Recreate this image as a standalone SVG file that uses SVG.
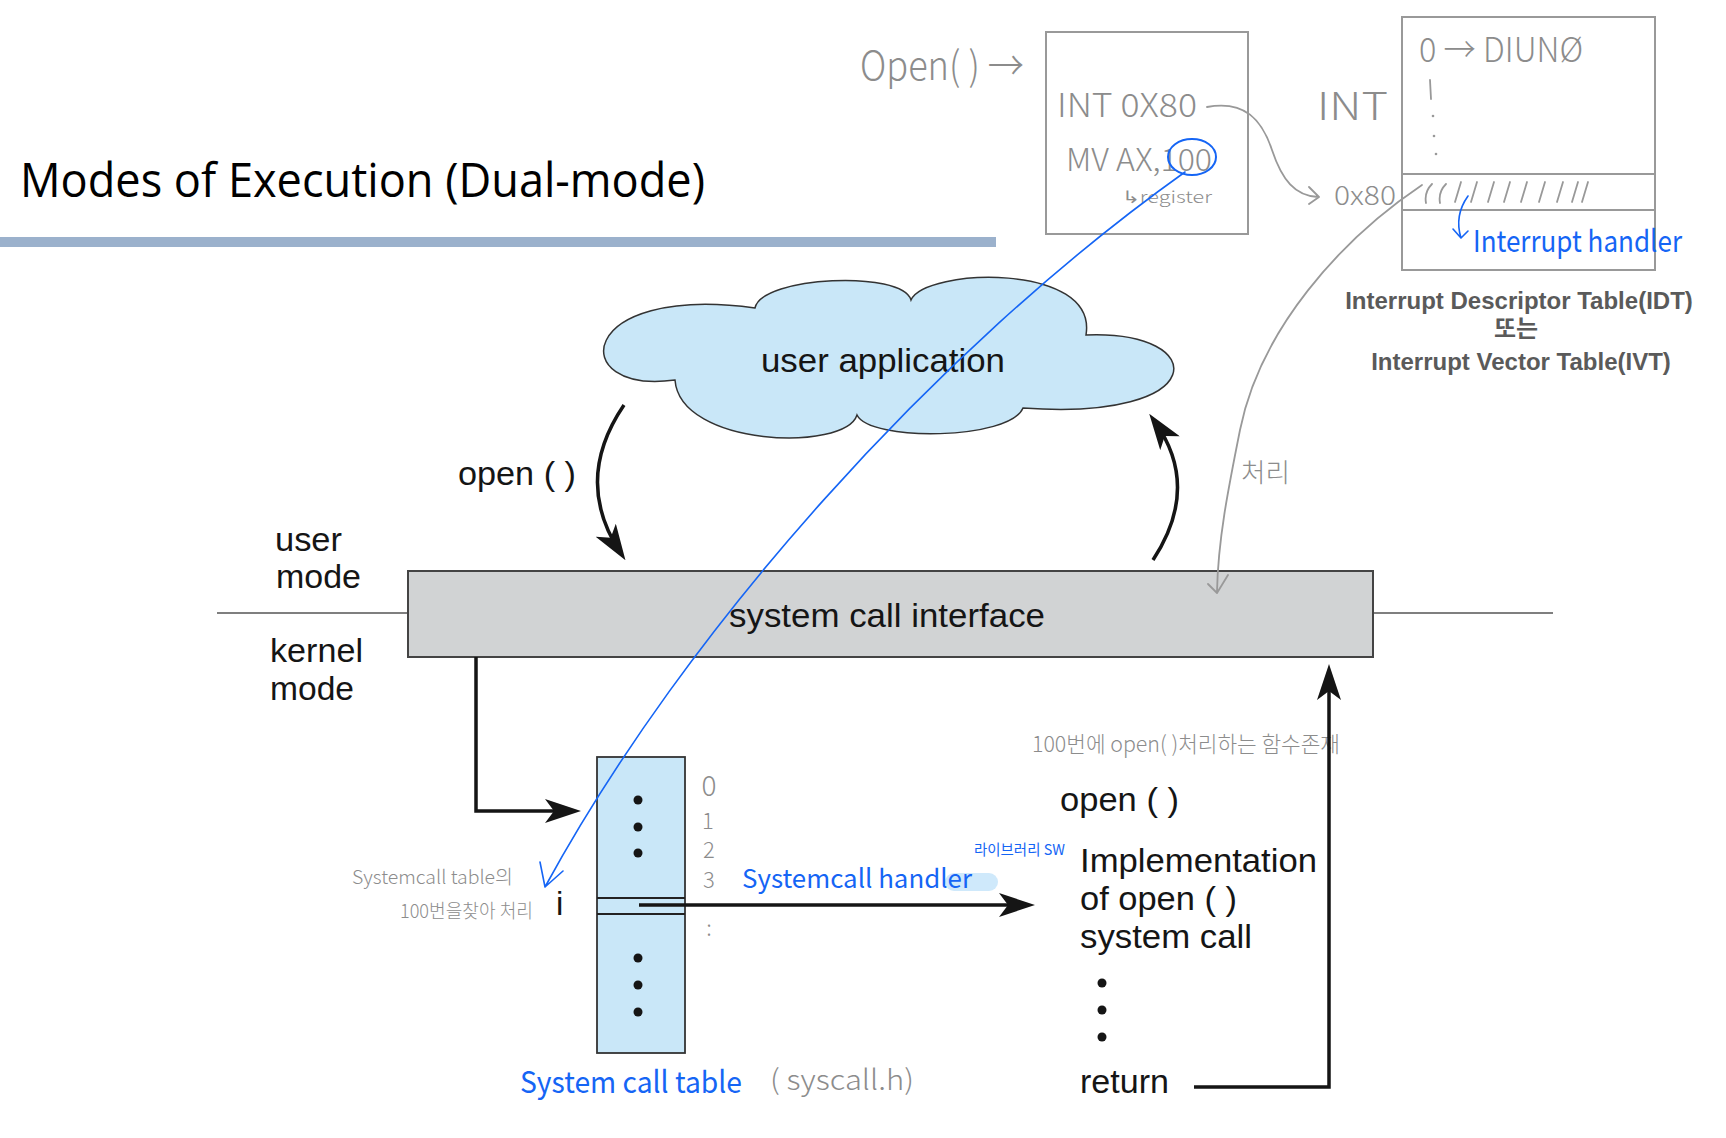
<svg xmlns="http://www.w3.org/2000/svg" width="1726" height="1138" viewBox="0 0 1726 1138">
<style>
  .lbl{font-family:"Liberation Sans",Arial,sans-serif;font-size:33px;fill:#151515}
  .hw{font-family:"Noto Sans CJK KR","Noto Sans",sans-serif;font-weight:300;fill:#8c8c8c}
  .hwb{font-family:"Noto Sans CJK KR","Noto Sans",sans-serif;font-weight:400;fill:#1565f5}
  .cap{font-family:"Liberation Sans","Noto Sans CJK KR",Arial,sans-serif;font-weight:bold;font-size:24px;fill:#5a5a5a}
  .blk{fill:none;stroke:#151515;stroke-width:3.5}
  .gry{fill:none;stroke:#999;stroke-width:1.8;stroke-linecap:round;stroke-linejoin:round}
  .blu{fill:none;stroke:#1565f5;stroke-width:1.6;stroke-linecap:round;stroke-linejoin:round}
  .dot{fill:#151515}
</style>
<defs>
  <marker id="ah" viewBox="0 0 36 24" refX="26" refY="12" markerWidth="36" markerHeight="24" markerUnits="userSpaceOnUse" orient="auto">
    <path d="M0,0 L36,12 L0,24 L9,12 Z" fill="#151515"/>
  </marker>
</defs>
<rect width="1726" height="1138" fill="#fff"/>

<g id="title">
  <text x="20" y="197" font-family="'Open Sans','Noto Sans',sans-serif" font-size="47" fill="#000" textLength="685" lengthAdjust="spacingAndGlyphs">Modes of Execution (Dual-mode)</text>
  <rect x="0" y="237" width="996" height="10" fill="#9bb1cc"/>
</g>

<g id="code-box">
  <text class="hw" x="860" y="80" font-size="40" textLength="164" lengthAdjust="spacingAndGlyphs">Open( ) →</text>
  <rect x="1046" y="32" width="202" height="202" fill="none" stroke="#999" stroke-width="2"/>
  <text class="hw" x="1057" y="117" font-size="33" textLength="140" lengthAdjust="spacingAndGlyphs">INT 0X80</text>
  <text class="hw" x="1066" y="171" font-size="31" textLength="146" lengthAdjust="spacingAndGlyphs">MV AX,100</text>
  <text class="hw" x="1122" y="203" font-size="17" textLength="90" lengthAdjust="spacingAndGlyphs">↳register</text>
  <ellipse cx="1192" cy="157" rx="24" ry="18" fill="none" stroke="#1565f5" stroke-width="2"/>
</g>

<g id="idt">
  <text class="hw" x="1317" y="120" font-size="38" textLength="71" lengthAdjust="spacingAndGlyphs">INT</text>
  <rect x="1402" y="17" width="253" height="253" fill="none" stroke="#999" stroke-width="2"/>
  <line x1="1402" y1="174" x2="1655" y2="174" stroke="#999" stroke-width="2"/>
  <line x1="1402" y1="210" x2="1655" y2="210" stroke="#999" stroke-width="2"/>
  <text class="hw" x="1419" y="62" font-size="34" textLength="164" lengthAdjust="spacingAndGlyphs">0 → DIUNØ</text>
  <path class="gry" d="M1430,80 L1431,99"/>
  <circle cx="1433" cy="116" r="1.3" fill="#999"/>
  <circle cx="1434" cy="136" r="1.3" fill="#999"/>
  <circle cx="1436" cy="154" r="1.3" fill="#999"/>
  <text class="hw" x="1334" y="205" font-size="26" textLength="62" lengthAdjust="spacingAndGlyphs">0x80</text>
  <path class="gry" d="M1432,184 Q1424,192 1426,203 M1446,184 Q1438,192 1440,203 M1461,182 L1455,202 M1477,182 L1471,202 M1494,182 L1488,202 M1510,182 L1504,202 M1527,182 L1521,202 M1545,182 L1539,202 M1563,182 L1557,202 M1578,182 L1572,202 M1588,182 L1582,202"/>
  <path class="blu" d="M1468,196 C1458,210 1457,225 1461,238 M1453,229 L1461,238 L1468,231"/>
  <text class="hwb" x="1473" y="252" font-size="30" textLength="209" lengthAdjust="spacingAndGlyphs">Interrupt handler</text>
  <text class="cap" x="1519" y="309" text-anchor="middle">Interrupt Descriptor Table(IDT)</text>
  <text class="cap" x="1516" y="337" text-anchor="middle" font-size="21">또는</text>
  <text class="cap" x="1521" y="370" text-anchor="middle">Interrupt Vector Table(IVT)</text>
</g>

<g id="user-application">
  <path d="M755,308 C762,276 902,270 911,300 C925,268 1098,262 1086,335 C1212,330 1212,422 1023,408 C1010,440 870,442 857,415 C845,452 680,447 675,380 C565,395 575,283 755,308 Z" fill="#c9e7f8" stroke="#333" stroke-width="1.5"/>
  <text class="lbl" x="883" y="372" text-anchor="middle" textLength="244" lengthAdjust="spacingAndGlyphs">user application</text>
</g>

<g id="mode-labels">
  <text class="lbl" x="275" y="551" textLength="67" lengthAdjust="spacingAndGlyphs">user</text>
  <text class="lbl" x="276" y="588" textLength="85" lengthAdjust="spacingAndGlyphs">mode</text>
  <text class="lbl" x="270" y="662" textLength="93" lengthAdjust="spacingAndGlyphs">kernel</text>
  <text class="lbl" x="270" y="700" textLength="84" lengthAdjust="spacingAndGlyphs">mode</text>
  <line x1="217" y1="613" x2="408" y2="613" stroke="#555" stroke-width="1.5"/>
  <line x1="1373" y1="613" x2="1553" y2="613" stroke="#555" stroke-width="1.5"/>
</g>

<g id="system-call-interface">
  <rect x="408" y="571" width="965" height="86" fill="#d1d3d4" stroke="#444" stroke-width="2"/>
  <text class="lbl" x="887" y="627" text-anchor="middle" textLength="316" lengthAdjust="spacingAndGlyphs">system call interface</text>
</g>

<g id="open-label">
  <text class="lbl" x="458" y="485" textLength="118" lengthAdjust="spacingAndGlyphs">open ( )</text>
</g>

<g id="syscall-table">
  <rect x="597" y="757" width="88" height="296" fill="#c9e7f8" stroke="#333" stroke-width="1.8"/>
  <line x1="597" y1="898" x2="685" y2="898" stroke="#222" stroke-width="1.8"/>
  <line x1="597" y1="914" x2="685" y2="914" stroke="#222" stroke-width="1.8"/>
  <circle class="dot" cx="638" cy="800" r="4.5"/>
  <circle class="dot" cx="638" cy="827" r="4.5"/>
  <circle class="dot" cx="638" cy="853" r="4.5"/>
  <circle class="dot" cx="638" cy="958" r="4.5"/>
  <circle class="dot" cx="638" cy="985" r="4.5"/>
  <circle class="dot" cx="638" cy="1012" r="4.5"/>
  <text class="lbl" x="556" y="915" font-size="35">i</text>
  <text class="hw" x="709" y="796" font-size="28" text-anchor="middle">0</text>
  <text class="hw" x="708" y="829" font-size="22" text-anchor="middle">1</text>
  <text class="hw" x="709" y="858" font-size="22" text-anchor="middle">2</text>
  <text class="hw" x="709" y="888" font-size="22" text-anchor="middle">3</text>
  <text class="hw" x="709" y="936" font-size="22" text-anchor="middle">:</text>
  <text class="hwb" x="520" y="1093" font-size="30" textLength="222" lengthAdjust="spacingAndGlyphs">System call table</text>
  <text class="hw" x="770" y="1090" font-size="28" textLength="144" lengthAdjust="spacingAndGlyphs">( syscall.h)</text>
  <text class="hw" x="352" y="884" font-size="19" textLength="161" lengthAdjust="spacingAndGlyphs">Systemcall table의</text>
  <text class="hw" x="400" y="918" font-size="19" textLength="133" lengthAdjust="spacingAndGlyphs">100번을찾아 처리</text>
</g>

<g id="handler-label">
  <rect x="945" y="873" width="53" height="18" rx="9" fill="#cfe9fb"/>
  <text class="hwb" x="742" y="888" font-size="26" textLength="230" lengthAdjust="spacingAndGlyphs">Systemcall handler</text>
  <text class="hwb" x="974" y="855" font-size="15" textLength="91" lengthAdjust="spacingAndGlyphs">라이브러리 SW</text>
</g>

<g id="open-implementation">
  <text class="hw" x="1032" y="752" font-size="22" textLength="308" lengthAdjust="spacingAndGlyphs">100번에 open( )처리하는 함수존재</text>
  <text class="lbl" x="1060" y="811" textLength="119" lengthAdjust="spacingAndGlyphs">open ( )</text>
  <text class="lbl" x="1080" y="872" textLength="237" lengthAdjust="spacingAndGlyphs">Implementation</text>
  <text class="lbl" x="1080" y="910" textLength="157" lengthAdjust="spacingAndGlyphs">of open ( )</text>
  <text class="lbl" x="1080" y="948" textLength="172" lengthAdjust="spacingAndGlyphs">system call</text>
  <circle class="dot" cx="1102" cy="983" r="4.5"/>
  <circle class="dot" cx="1102" cy="1010" r="4.5"/>
  <circle class="dot" cx="1102" cy="1037" r="4.5"/>
  <text class="lbl" x="1080" y="1093" textLength="89" lengthAdjust="spacingAndGlyphs">return</text>
</g>

<g id="korean-note">
  <text class="hw" x="1241" y="482" font-size="26" textLength="49" lengthAdjust="spacingAndGlyphs">처리</text>
</g>

<g id="connectors">
  <path class="blk" d="M624,405 Q573,480 620,552" marker-end="url(#ah)"/>
  <path class="blk" d="M1153,560 Q1201,487 1155,422" marker-end="url(#ah)"/>
  <path class="blk" d="M476,657 V811 H571" marker-end="url(#ah)"/>
  <path class="blk" d="M639,905 H1025" stroke-width="4" marker-end="url(#ah)"/>
  <path class="blk" d="M1194,1087 H1329 V674" marker-end="url(#ah)"/>
  <path class="gry" d="M1207,107 C1245,100 1262,120 1272,150 C1282,180 1295,196 1318,197 M1309,187 L1319,197 L1309,204"/>
  <path class="gry" d="M1422,185 C1340,240 1260,330 1240,430 C1228,490 1218,540 1217,592 M1208,584 L1217,593 L1228,575"/>
  <path class="blu" d="M1185,172 C935,350 685,630 545,887 M540,862 L545,887 L563,871"/>
</g>
</svg>
